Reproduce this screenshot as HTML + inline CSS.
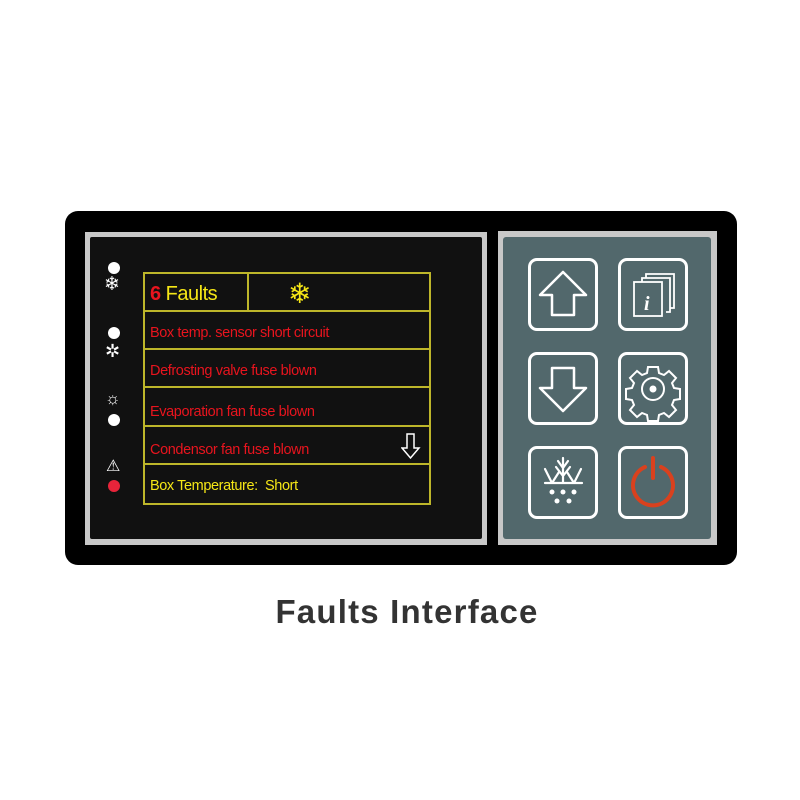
<!DOCTYPE html>
<html><head><style>
body{margin:0;width:800px;height:800px;background:#fff;position:relative;font-family:"Liberation Sans",sans-serif;overflow:hidden}
.a{position:absolute}
.row{position:absolute;left:150px;font-size:14.5px;color:#e8141e;letter-spacing:-0.4px}
.hl{position:absolute;left:143px;width:286px;height:2px;background:#bdb62a}
.btn{position:absolute;width:64px;height:67px;border:3px solid #fff;border-radius:9px;box-sizing:content-box}
</style></head><body>
<div class="a" style="left:65px;top:211px;width:672px;height:354px;background:#000;border-radius:13px"></div>
<div class="a" style="left:85px;top:232px;width:402px;height:313px;background:#c8c8c8"></div>
<div class="a" style="left:90px;top:237px;width:392px;height:302px;background:#111;border-radius:2px"></div>
<div class="a" style="left:498px;top:231px;width:219px;height:314px;background:#c8c8c8"></div>
<div class="a" style="left:503px;top:237px;width:208px;height:302px;background:#52686c;border-radius:3px"></div>

<div class="a" style="left:143px;top:272px;width:284px;height:229px;border:2px solid #bdb62a"></div>
<div class="hl" style="top:310px"></div>
<div class="hl" style="top:348px"></div>
<div class="hl" style="top:386px"></div>
<div class="hl" style="top:425px"></div>
<div class="hl" style="top:463px"></div>
<div class="a" style="left:247px;top:272px;width:2px;height:39px;background:#bdb62a"></div>
<div class="a" style="left:150px;top:283px;font-size:20px;letter-spacing:-0.5px;color:#f5e616"><span style="color:#e8141e;font-weight:bold">6</span> Faults</div>
<div class="a" style="left:288px;top:279px;font-size:28px;color:#f5e616;line-height:30px">❄</div>
<div class="row" style="top:325px">Box temp. sensor short circuit</div>
<div class="row" style="top:363px">Defrosting valve fuse blown</div>
<div class="row" style="top:404px">Evaporation fan fuse blown</div>
<div class="row" style="top:442px">Condensor fan fuse blown</div>
<div class="row" style="top:478px;color:#f5e616">Box Temperature:&nbsp; Short</div>
<svg class="a" style="left:401px;top:432px" width="20" height="28"><path d="M6 2h7v14h5l-8.5 10L1 16h5z" fill="none" stroke="#fff" stroke-width="1.5"/></svg>

<div class="a" style="left:108px;top:262px;width:12px;height:12px;border-radius:50%;background:#fff"></div>
<div class="a" style="left:104px;top:275px;font-size:19px;color:#fff;line-height:20px">❄</div>
<div class="a" style="left:108px;top:327px;width:12px;height:12px;border-radius:50%;background:#fff"></div>
<div class="a" style="left:105px;top:342px;font-size:18px;color:#fff;line-height:18px">✲</div>
<div class="a" style="left:105px;top:391px;font-size:17px;color:#fff;line-height:16px">☼</div>
<div class="a" style="left:108px;top:414px;width:12px;height:12px;border-radius:50%;background:#fff"></div>
<div class="a" style="left:106px;top:458px;font-size:16px;color:#fff;line-height:18px">⚠</div>
<div class="a" style="left:108px;top:480px;width:12px;height:12px;border-radius:50%;background:#e8243a"></div>

<div class="btn" style="left:528px;top:258px"></div>
<div class="btn" style="left:618px;top:258px"></div>
<div class="btn" style="left:528px;top:352px"></div>
<div class="btn" style="left:618px;top:352px"></div>
<div class="btn" style="left:528px;top:446px"></div>
<div class="btn" style="left:618px;top:446px"></div>
<svg class="a" style="left:528px;top:258px" width="70" height="73"><path d="M35 14L12 37h12v20h22V37h12z" fill="none" stroke="#fff" stroke-width="2.5" stroke-linejoin="round"/></svg>
<svg class="a" style="left:618px;top:258px" width="70" height="73" fill="none" stroke="#fff" stroke-width="1.8"><path d="M28 20v-4h28v34h-4M24 24v-4h28v34h-4"/><rect x="16" y="24" width="28" height="34"/><text x="26" y="52" font-family="Liberation Serif" font-style="italic" font-weight="bold" font-size="20" fill="#fff" stroke="none">i</text></svg>
<svg class="a" style="left:528px;top:352px" width="70" height="73"><path d="M35 59L12 36h12V16h22v20h12z" fill="none" stroke="#fff" stroke-width="2.5" stroke-linejoin="round"/></svg>
<svg class="a" style="left:618px;top:352px" width="70" height="73" fill="none" stroke="#fff" stroke-width="2"><g transform="translate(35,37)"><path d="M-5-22h10l1 6 5 2 5-4 7 7-4 5 2 5 6 1v10l-6 1-2 5 4 5-7 7-5-4-5 2-1 6h-10l-1-6-5-2-5 4-7-7 4-5-2-5-6-1v-10l6-1 2-5-4-5 7-7 5 4 5-2z"/><circle r="11"/><circle r="2.5" fill="#fff"/></g></svg>
<svg class="a" style="left:528px;top:446px" width="70" height="73" fill="none" stroke="#fff" stroke-width="2.2" stroke-linecap="round"><path d="M35 37V12M35 30l-7-9M35 30l7-9M35 22l-5-7M35 22l5-7M24 37l-7-14M24 37l7-11M46 37l7-14M46 37l-7-11M17 37h37"/><g fill="#fff" stroke="none"><circle cx="24" cy="46" r="2.5"/><circle cx="35" cy="46" r="2.5"/><circle cx="46" cy="46" r="2.5"/><circle cx="29" cy="55" r="2.5"/><circle cx="41" cy="55" r="2.5"/></g></svg>
<svg class="a" style="left:618px;top:446px" width="70" height="73" fill="none" stroke="#d9411e" stroke-width="4" stroke-linecap="round"><path d="M27 21A20 20 0 1 0 43 21"/><path d="M35 12v20"/></svg>

<div class="a" style="left:0;width:814px;top:593px;text-align:center;font-size:33px;letter-spacing:1.2px;font-weight:bold;color:#333">Faults Interface</div>
</body></html>
